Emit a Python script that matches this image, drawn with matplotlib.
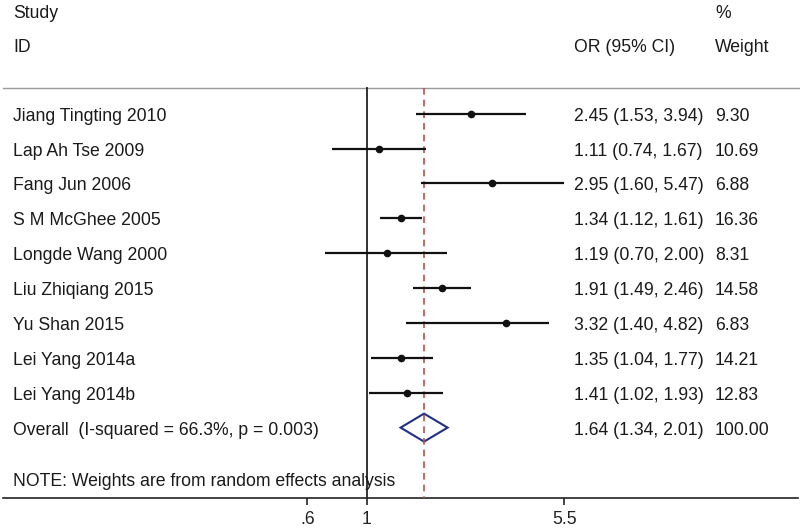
import numpy as np
import matplotlib
matplotlib.use("Agg")
import matplotlib.pyplot as plt
from matplotlib.transforms import blended_transform_factory
from matplotlib.ticker import FixedLocator, FixedFormatter, NullLocator

plt.rcParams['font.family'] = ['Liberation Sans', 'DejaVu Sans']

studies = ["Jiang Tingting 2010", "Lap Ah Tse 2009", "Fang Jun 2006", "S M McGhee 2005",
           "Longde Wang 2000", "Liu Zhiqiang 2015", "Yu Shan 2015", "Lei Yang 2014a",
           "Lei Yang 2014b"]
or_vals = [2.45, 1.11, 2.95, 1.34, 1.19, 1.91, 3.32, 1.35, 1.41]
ci_low = [1.53, 0.74, 1.60, 1.12, 0.70, 1.49, 1.40, 1.04, 1.02]
ci_high = [3.94, 1.67, 5.47, 1.61, 2.00, 2.46, 4.82, 1.77, 1.93]
weights = ["9.30", "10.69", "6.88", "16.36", "8.31", "14.58", "6.83", "14.21", "12.83"]
overall_label = "Overall  (I-squared = 66.3%, p = 0.003)"
overall_or, overall_lo, overall_hi = 1.64, 1.34, 2.01
overall_weight = "100.00"
tick_vals = [0.6, 1.0, 5.5]
tick_labels = [".6", "1", "5.5"]
note = "NOTE: Weights are from random effects analysis"

W, H = 800, 530
FS = 12.7
fig = plt.figure(figsize=(W / 100, H / 100), dpi=100)
axis_y = 497.5
ax = fig.add_axes([0, (H - axis_y) / H, 1, axis_y / H])
ax.set_xscale('log')
scale = 115.9
x1 = 366.7
ax.set_xlim(np.exp(-x1 / scale), np.exp((W - x1) / scale))
ax.set_ylim(axis_y, 0)
for s in ['left', 'right', 'top', 'bottom']:
    ax.spines[s].set_visible(False)
ax.yaxis.set_visible(False)
ax.xaxis.set_major_locator(FixedLocator(tick_vals))
ax.xaxis.set_major_formatter(FixedFormatter(tick_labels))
ax.xaxis.set_minor_locator(NullLocator())
ax.tick_params(axis='x', length=5, width=1.2, pad=5, labelsize=FS, colors='#222222')

tr = blended_transform_factory(ax.transAxes, ax.transData)
txt_kw = dict(transform=tr, fontsize=FS, color='#1a1a1a', va='baseline', ha='left', clip_on=False)
bl = 7  # baseline offset below row centre (px)

# axis line
ax.plot([3 / W, 798 / W], [axis_y, axis_y], transform=tr, color='#222222', lw=1.2, clip_on=False)

x_id, x_or, x_w = 13, 574, 715

# headers
ax.text(x_id / W, 17.5, "Study", **txt_kw)
ax.text(x_id / W, 52, "ID", **txt_kw)
ax.text(x_w / W, 17.5, "%", **txt_kw)
ax.text(x_w / W, 52, "Weight", **txt_kw)
ax.text(x_or / W, 52, "OR (95% CI)", **txt_kw)
ax.plot([3 / W, 1], [87.5, 87.5], transform=tr, color='#999999', lw=1.0, clip_on=False)

row0, step = 113.7, 34.88
ys = [row0 + i * step for i in range(len(studies))]
y_over = row0 + len(studies) * step
y_note = 480

# reference lines
ax.plot([1, 1], [88, axis_y], color='#222222', lw=1.3)
ax.plot([overall_or, overall_or], [88, axis_y], color='#b5524c', lw=1.2, ls=(0, (4, 3)))

for y, name, o, lo, hi, w in zip(ys, studies, or_vals, ci_low, ci_high, weights):
    ax.plot([lo, hi], [y, y], color='#111111', lw=1.6, solid_capstyle='butt')
    ax.plot([o], [y], 'o', color='#111111', ms=4.5)
    ax.text(x_id / W, y + bl, name, **txt_kw)
    ax.text(x_or / W, y + bl, f"{o:.2f} ({lo:.2f}, {hi:.2f})", **txt_kw)
    ax.text(x_w / W, y + bl, w, **txt_kw)

# overall diamond
dh = 14
ax.fill([overall_lo, overall_or, overall_hi, overall_or, overall_lo],
        [y_over, y_over - dh, y_over, y_over + dh, y_over],
        facecolor='none', edgecolor='#1f2f86', lw=1.5)
ax.text(x_id / W, y_over + bl, overall_label, **txt_kw)
ax.text(x_or / W, y_over + bl, f"{overall_or:.2f} ({overall_lo:.2f}, {overall_hi:.2f})", **txt_kw)
ax.text(x_w / W, y_over + bl, overall_weight, **txt_kw)
ax.text(x_id / W, y_note + 6, note, **txt_kw)

fig.savefig("out.png", dpi=100, facecolor='white')
